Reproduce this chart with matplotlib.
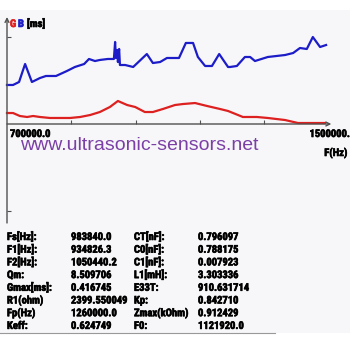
import matplotlib
matplotlib.use("Agg")
import matplotlib.pyplot as plt
from matplotlib.patches import Rectangle
from matplotlib import font_manager as fm
from matplotlib import patheffects as pe

# ---------------- data ----------------
freq_b = [700000, 715000, 730000, 745000, 762000, 782000, 797000, 822000, 849000, 869000,
          892000, 904000, 919000, 931000, 951000, 966000, 969000, 971000, 974000, 976000,
          979000, 981000, 994000, 1014000, 1048000, 1063000, 1081000, 1098000, 1128000, 1145000,
          1163000, 1175000, 1193000, 1210000, 1228000, 1250000, 1255000, 1272000, 1292000, 1305000,
          1317000, 1349000, 1392000, 1412000, 1429000, 1446000, 1461000, 1479000, 1494000]
b_ms = [0.707, 0.707, 0.761, 1.087, 0.761, 0.833, 0.870, 0.870, 0.960, 1.033,
        1.087, 1.178, 1.141, 1.160, 1.178, 1.178, 1.486, 1.196, 1.341, 1.123,
        1.359, 1.069, 1.069, 1.033, 1.268, 1.105, 1.123, 1.196, 1.196, 1.468,
        1.468, 1.214, 1.051, 1.051, 1.268, 1.033, 1.033, 1.051, 1.214, 1.214,
        1.141, 1.214, 1.250, 1.286, 1.377, 1.359, 1.576, 1.395, 1.431]

freq_g = [700000, 715000, 732000, 750000, 765000, 782000, 807000, 857000, 882000, 907000,
          931000, 956000, 976000, 999000, 1019000, 1043000, 1063000, 1088000, 1118000, 1138000,
          1168000, 1198000, 1230000, 1250000, 1287000, 1322000, 1349000, 1392000, 1424000, 1459000,
          1491000]
g_ms = [0.199, 0.199, 0.145, 0.127, 0.145, 0.127, 0.109, 0.109, 0.127, 0.163,
        0.217, 0.308, 0.417, 0.344, 0.308, 0.217, 0.217, 0.272, 0.344, 0.362,
        0.380, 0.326, 0.272, 0.236, 0.127, 0.127, 0.109, 0.072, 0.018, 0.018,
        0.018]

x_ticks = [860000, 1020000, 1180000, 1340000]
y_ticks = [1.576, -1.576]
x_min_label = "700000.0"
x_max_label = "1500000."

labels1 = ["Fs[Hz]:", "F1[Hz]:", "F2[Hz]:", "Qm:", "Gmax[ms]:", "R1(ohm)", "Fp(Hz)", "Keff:"]
values1 = ["983840.0", "934826.3", "1050440.2", "8.509706", "0.416745", "2399.550049",
           "1260000.0", "0.624749"]
labels2 = ["CT[nF]:", "C0[nF]:", "C1[nF]:", "L1[mH]:", "E33T:", "Kp:", "Zmax(kOhm)", "F0:"]
values2 = ["0.796097", "0.788175", "0.007923", "3.303336", "910.631714", "0.842710",
           "0.912429", "1121920.0"]

# ---------------- fonts ----------------
names = {f.name for f in fm.fontManager.ttflist}
narrow_fam = None
for cand in ["Liberation Sans Narrow", "Roboto Condensed", "Open Sans Condensed",
             "Noto Sans Condensed", "DejaVu Sans Condensed"]:
    if cand in names:
        narrow_fam = cand
        break
if narrow_fam is None:
    NARROW = dict(family=["DejaVu Sans"], stretch="condensed", weight="bold")
    fs_small = 6.3
    STROKE = 0.0
else:
    NARROW = dict(family=[narrow_fam, "DejaVu Sans"], weight="bold")
    fs_small = 7.6
    STROKE = 0.45
REG = ["Liberation Sans", "DejaVu Sans"]

# ---------------- layout ----------------
W = H = 357
fig = plt.figure(figsize=(W / 100, H / 100), dpi=100)
fig.patch.set_facecolor("white")

def P(x, y):
    return (x / W, 1 - y / H)

def T(x, y, txt, color="black", **kw):
    eff = [pe.withStroke(linewidth=STROKE, foreground=color)] if STROKE > 0 else []
    return fig.text(*P(x, y), txt, color=color, fontsize=fs_small, va="baseline",
                    path_effects=eff, **NARROW, **kw)

fig.patches.append(Rectangle(P(0, 333), 350 / W, 323 / H, transform=fig.transFigure,
                             facecolor="#f7f7f9", edgecolor="none", zorder=-5))

s = 0.018118  # ms per pixel
ax = fig.add_axes([7 / W, (H - 223) / H, 321.5 / W, 201 / H])
ax.set_zorder(2)
ax.set_xlim(700000, 1500000)
ax.set_ylim((124 - 223) * s, (124 - 22) * s)
ax.axis("off")

axcol = "#505050"
ax.annotate("", xy=(700000, (124 - 17) * s), xytext=(700000, (124 - 223) * s),
            arrowprops=dict(arrowstyle="->", color=axcol, lw=1.0, shrinkA=0, shrinkB=0,
                            mutation_scale=7), annotation_clip=False)
ax.annotate("", xy=(1507000, 0), xytext=(700000, 0),
            arrowprops=dict(arrowstyle="->", color=axcol, lw=1.0, shrinkA=0, shrinkB=0,
                            mutation_scale=7), annotation_clip=False)
ax.vlines(x_ticks, 0, 4 * s, color=axcol, lw=0.8)
ax.hlines(y_ticks, 700000, 710000, color=axcol, lw=0.8)

ax.plot(freq_g, g_ms, color="#dd2020", lw=1.6, solid_joinstyle="round", clip_on=False)
ax.plot(freq_b, b_ms, color="#1c1cc8", lw=1.6, solid_joinstyle="round", clip_on=False)

# header
T(10, 27, "G", color="#e02020")
T(18, 27, "B", color="#2020c8")
T(27, 27, "[ms]")

T(10, 137, x_min_label)
T(350, 137, x_max_label, ha="right")
T(347, 156, "F(Hz)", ha="right")

fig.text(*P(20, 150), "www.ultrasonic-sensors.net", family=REG, fontsize=14,
         color="#7b3fa6", va="baseline")

# table
for i in range(8):
    yb = 240 + i * 12.7
    T(7, yb, labels1[i])
    T(71, yb, values1[i])
    T(134, yb, labels2[i])
    T(198, yb, values2[i])

fig.lines.append(plt.Line2D([0 / W, 275 / W], [1 - 333 / H, 1 - 333 / H],
                            transform=fig.transFigure, color="#999999", lw=0.8))

fig.savefig("out.png", dpi=100)
